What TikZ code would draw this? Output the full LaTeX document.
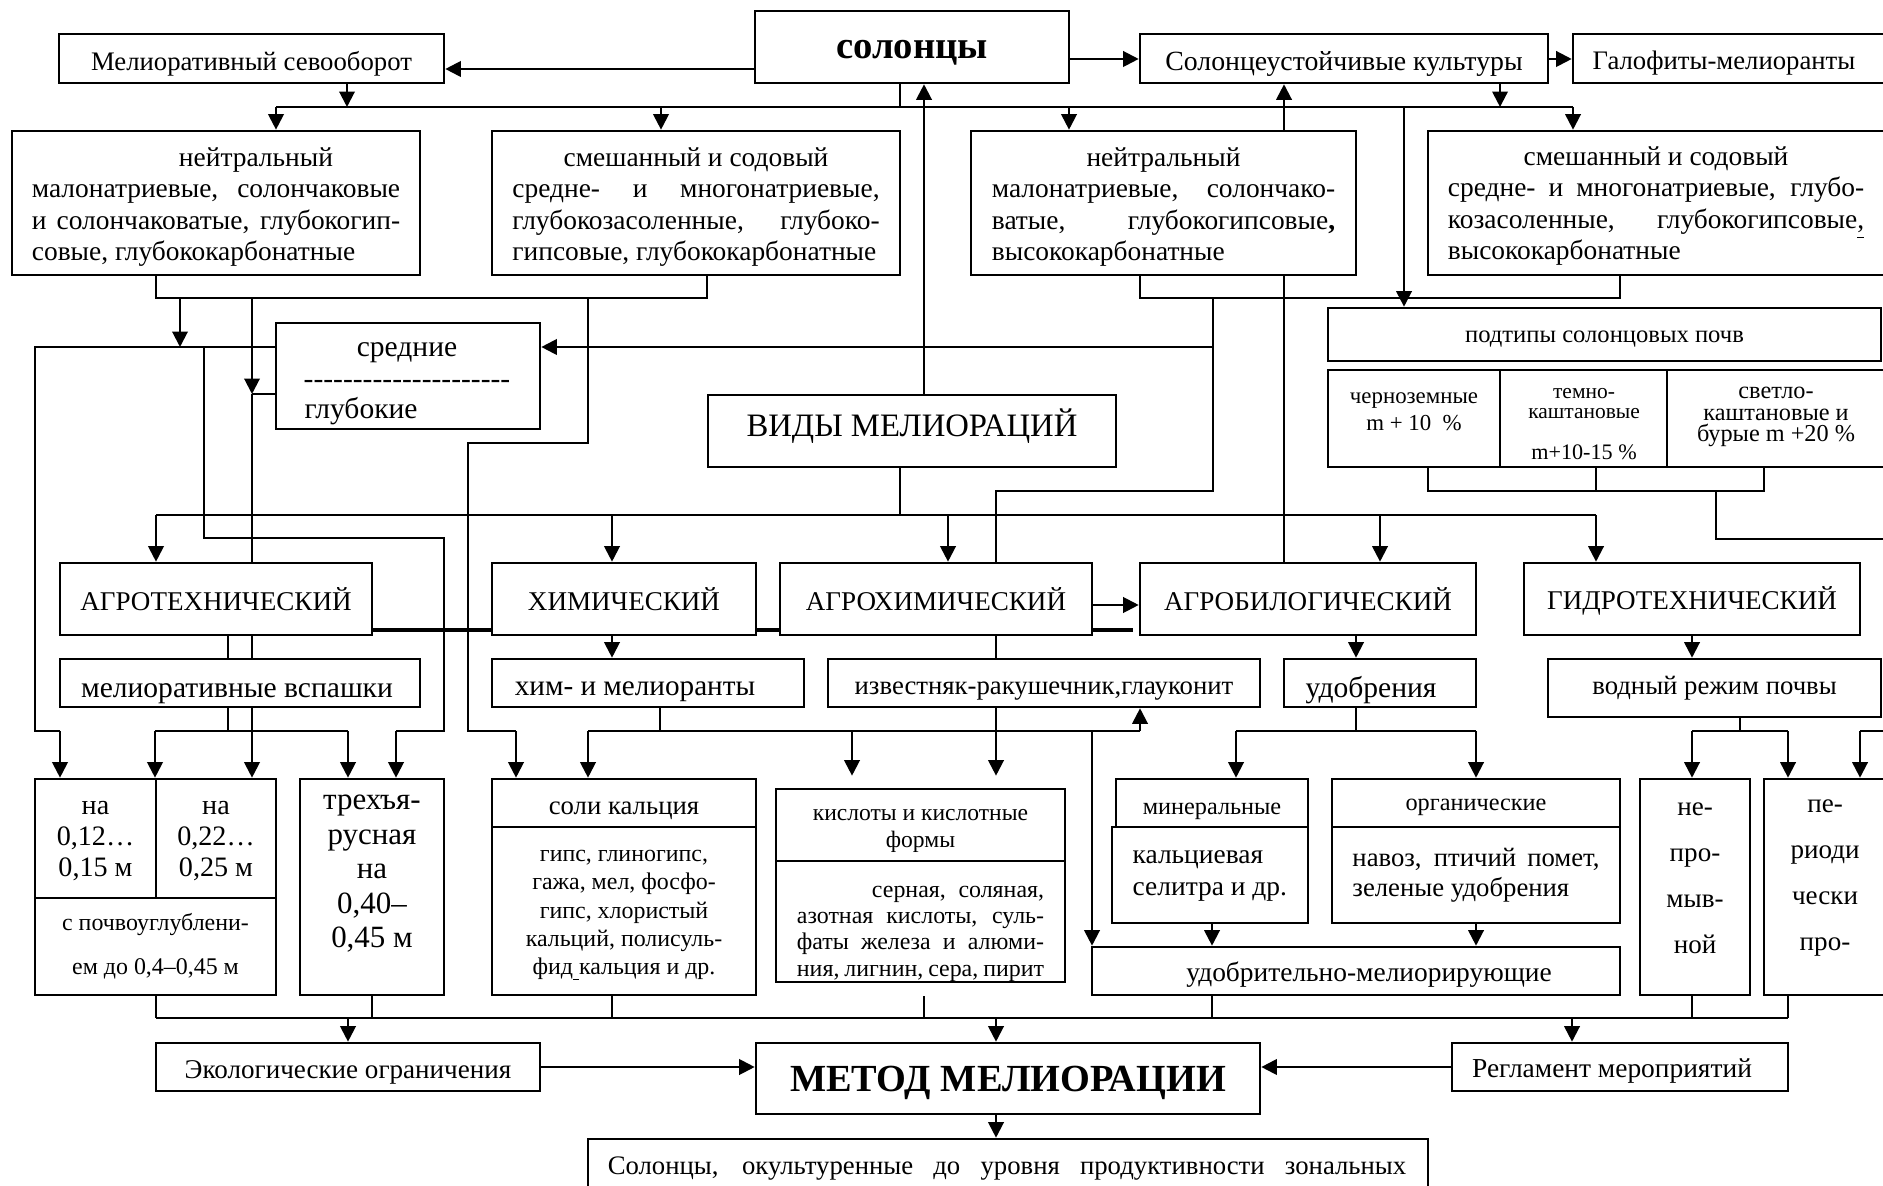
\documentclass[tikz,border=0pt]{standalone}
\usepackage{fontspec}
\setmainfont{Liberation Serif}
\usetikzlibrary{arrows.meta}
\pgfdeclarelayer{bgl}
\pgfsetlayers{bgl,main}
\newcommand\fs[2]{\fontsize{#1pt}{#2pt}\selectfont}
\newcommand\LS[2]{\makebox[#1][s]{#2}}
\newcommand\LL[2]{\makebox[#1][l]{#2}}
\newcommand\LC[2]{\makebox[#1][c]{#2}}
% empty box
\newcommand\BB[5]{\node[bx,minimum width={(#4-#2)*0.01cm},minimum height={(#5-#3)*0.01cm}] (#1) at ({(#2+#4)/2},{(#3+#5)/2}) {};}
% box with its text (text node named <name>t, centred in the box, shifted by the options)
\newcommand\B[7][]{\BB{#2}{#3}{#4}{#5}{#6}\node[tx,#1] (#2t) at (#2.center) {#7};}
\newcommand\T[5][]{\node[tx,#1] (#2) at (#3,#4) {#5};}
\newcommand\hyrow{\foreach \i in {1,...,21}{-\kern0pt}}
\begin{document}
\begin{tikzpicture}[x=0.01cm,y=-0.01cm,
 bx/.style={draw,line width=0.75pt,fill=white,inner sep=0pt},
 tx/.style={inner sep=0pt,align=center,font=\fs{7.6}{8.73}},
 cn/.style={line width=0.6pt},
 ca/.style={line width=0.6pt,-{Triangle[length=4.4pt,width=4.4pt]}},
 thk/.style={line width=1.3pt}]
\useasboundingbox (0,0) rectangle (1883,1186);
% ---- top row
\B[yshift=-0.05cm]{mel}{59}{34}{444}{83}{Мелиоративный севооборот}
\B[font=\fs{11}{12}\bfseries,yshift=-0.06cm]{sol}{755}{11}{1069}{83}{солонцы}
\B[font=\fs{7.9}{9},yshift=-0.05cm]{ust}{1140}{34}{1548}{83}{Солонцеустойчивые культуры}
\BB{gal}{1573}{34}{1910}{83}
\T{galt}{1724}{63}{Галофиты-мелиоранты}
% ---- row 2
\B[font=\fs{7.8}{8.88},yshift=-0.04cm]{ln}{12}{131}{420}{275}{\LL{3.68cm}{\hspace*{1.47cm}нейтральный}\\ \LS{3.68cm}{малонатриевые, солончаковые}\\ \LS{3.68cm}{и солончаковатые, глубокогип-}\\ \LL{3.68cm}{совые, глубококарбонатные}}
\B[font=\fs{7.8}{8.88},yshift=-0.04cm]{lm}{492}{131}{900}{275}{\LC{3.67cm}{смешанный и содовый}\\ \LS{3.67cm}{средне- и многонатриевые,}\\ \LS{3.67cm}{глубокозасоленные, глубоко-}\\ \LL{3.67cm}{гипсовые, глубококарбонатные}}
\B[font=\fs{7.8}{8.88},yshift=-0.04cm]{rn}{971}{131}{1356}{275}{\LC{3.43cm}{нейтральный}\\ \LS{3.43cm}{малонатриевые, солончако-}\\ \LS{3.43cm}{ватые, глубокогипсовые{\bfseries ,}}\\ \LL{3.43cm}{высококарбонатные}}
\BB{rm}{1428}{131}{1910}{275}
\T[font=\fs{7.8}{8.88}]{rmt}{1656}{206}{\LC{4.16cm}{смешанный и содовый}\\ \LS{4.16cm}{средне- и многонатриевые, глубо-}\\ \LS{4.16cm}{козасоленные, глубокогипсовые\underline{,}}\\ \LL{4.16cm}{высококарбонатные}}
% ---- middle
\BB{sr}{276}{323}{540}{429}
\T[font=\fs{8.4}{9}]{srt1}{407}{353}{средние}
\T[font=\fs{8.4}{9}]{srt2}{407}{384}{\hyrow}
\T[font=\fs{8.4}{9},anchor=west]{srt3}{304}{411}{глубокие}
\B[font=\fs{9.3}{10},yshift=0.05cm]{vid}{708}{395}{1116}{467}{ВИДЫ МЕЛИОРАЦИЙ}
\B[font=\fs{7}{8},yshift=-0.045cm]{pt}{1328}{308}{1881}{361}{подтипы солонцовых почв}
\BB{st1}{1328}{370}{1500}{467}
\BB{st2}{1500}{370}{1667}{467}
\BB{st3}{1667}{370}{1910}{467}
\T[font=\fs{6.5}{7.7}]{st1t}{1414}{412}{черноземные\\m + 10 \ \%}
\T[font=\fs{6.1}{5.7}]{st2t}{1584}{404}{темно-\\каштановые}
\T[font=\fs{6.3}{7}]{st2u}{1584}{452}{m+10-15 \%}
\T[font=\fs{6.9}{6}]{st3t}{1776}{417}{светло-\\каштановые и\\бурые m +20 \%}
% ---- row 4
\B[font=\fs{7.7}{9}]{at}{60}{563}{372}{635}{АГРОТЕХНИЧЕСКИЙ}
\B[font=\fs{7.7}{9}]{ch}{492}{563}{756}{635}{ХИМИЧЕСКИЙ}
\B[font=\fs{7.7}{9}]{ac}{780}{563}{1092}{635}{АГРОХИМИЧЕСКИЙ}
\B[font=\fs{7.7}{9}]{ab}{1140}{563}{1476}{635}{АГРОБИЛОГИЧЕСКИЙ}
\B[font=\fs{7.7}{9},yshift=-0.02cm]{gt}{1524}{563}{1860}{635}{ГИДРОТЕХНИЧЕСКИЙ}
% ---- row 5
\BB{vs}{60}{659}{420}{707}
\T[font=\fs{8.4}{9}]{vst}{237}{694}{мелиоративные вспашки}
\BB{hm}{492}{659}{804}{707}
\T[font=\fs{8.3}{9}]{hmt}{635}{692}{хим- и мелиоранты}
\B[yshift=-0.08cm]{iz}{828}{659}{1260}{707}{известняк-ракушечник,глауконит}
\BB{ud}{1284}{659}{1476}{707}
\T[font=\fs{8.4}{9}]{udt}{1371}{690}{удобрения}
\B{vr}{1548}{659}{1881}{717}{водный режим почвы}
% ---- row 6
\B[font=\fs{8}{8.8},yshift=-0.03cm]{c12}{35}{779}{156}{898}{на\\0,12…\\0,15 м}
\B[font=\fs{8}{8.8},yshift=-0.03cm]{c22}{156}{779}{276}{898}{на\\0,22…\\0,25 м}
\B[font=\fs{6.8}{12.5}]{cdp}{35}{898}{276}{995}{с почвоуглублени-\\ем до 0,4–0,45 м}
\BB{tr}{300}{779}{444}{995}
\T[font=\fs{8.8}{9.8}]{trt}{372}{874}{трехъя-\\русная\\на\\0,40–\\0,45 м}
\B[yshift=-0.075cm]{skA}{492}{779}{756}{827}{соли кальция}
\B[font=\fs{6.8}{8},yshift=-0.05cm]{skB}{492}{827}{756}{995}{гипс, глиногипс,\\гажа, мел, фосфо-\\гипс, хлористый\\кальций, полисуль-\\фид\underline{\ }кальция и др.}
\B[font=\fs{6.7}{7.7},yshift=-0.06cm]{ksA}{776}{789}{1065}{861}{кислоты и кислотные\\формы}
\B[font=\fs{6.8}{7.5},yshift=-0.12cm]{ksB}{776}{861}{1065}{982}{\LS{2.47cm}{\hspace*{0.75cm}серная, соляная,}\\ \LS{2.47cm}{азотная кислоты, суль-}\\ \LS{2.47cm}{фаты железа и алюми-}\\ \LS{2.47cm}{ния, лигнин, сера, пирит}}
\B[font=\fs{6.9}{8},yshift=-0.08cm]{mnA}{1116}{779}{1308}{827}{минеральные}
\BB{mnB}{1112}{827}{1308}{923}
\T[font=\fs{7.8}{9.1},anchor=west,align=left]{mnt}{1132}{876}{кальциевая\\селитра и др.}
\B[font=\fs{6.9}{8},yshift=-0.04cm]{ogA}{1332}{779}{1620}{827}{органические}
\B[font=\fs{7.6}{8.5}]{ogB}{1332}{827}{1620}{923}{\LS{2.47cm}{навоз, птичий помет,}\\ \LL{2.47cm}{зеленые удобрения}}
\BB{um}{1092}{947}{1620}{995}
\T[font=\fs{7.8}{9}]{umt}{1369}{975}{удобрительно-мелиорирующие}
\BB{np}{1640}{779}{1750}{995}
\T[font=\fs{7.7}{13.1}]{npt}{1695}{878}{не-\\про-\\мыв-\\ной}
\BB{pp}{1764}{779}{1910}{995}
\T[font=\fs{7.7}{13.1}]{ppt}{1825}{878}{пе-\\риоди\\чески\\про-}
% ---- bottom
\B[font=\fs{7.7}{9},yshift=-0.05cm]{eko}{156}{1043}{540}{1091}{Экологические ограничения}
\B[font=\fs{10.9}{12}\bfseries,yshift=-0.045cm]{met}{756}{1043}{1260}{1114}{МЕТОД МЕЛИОРАЦИИ}
\BB{reg}{1452}{1043}{1788}{1091}
\T[font=\fs{7.8}{9}]{regt}{1612}{1071}{Регламент мероприятий}
\BB{fin}{588}{1139}{1428}{1230}
\T{fint}{1007}{1169}{\LS{7.98cm}{Солонцы, окультуренные до уровня продуктивности зональных}}
% ---- connectors (behind boxes)
\begin{pgfonlayer}{bgl}
\fill[white] (0,0) rectangle (1883,1186);
\draw[ca] (sol.west |- 0,69) -- (mel.east |- 0,69);
\draw[ca] (sol.east |- 0,59) -- (ust.west |- 0,59);
\draw[ca] (ust.east |- 0,59) -- (gal.west |- 0,59);
\draw[cn] (276,107) -- (1573,107);
\draw[ca] (mel.south -| 347,0) -- (347,107);
\draw[cn] (sol.south -| 900,0) -- (900,107);
\draw[ca] (ust.south -| 1500,0) -- (1500,107);
\foreach \x/\n in {276/ln,661/lm,1069/rn,1573/rm}{\draw[ca] (\x,107) -- (\n.north -| \x,0);}
\draw[ca] (1404,107) -- (pt.north -| 1404,0);
\draw[ca] (vid.north -| 924,0) -- (sol.south -| 924,0);
\draw[ca] (ab.north -| 1284,0) -- (ust.south -| 1284,0);
% left bracket
\draw[cn] (ln.south -| 156,0) -- (156,298) -- (707,298) -- (lm.south -| 707,0);
\draw[ca] (180,298) -- (180,347);
\draw[cn] (sr.west |- 0,347) -- (35,347) -- (35,731) -- (60,731);
\draw[ca] (60,731) -- (c12.north -| 60,0);
\draw[cn] (204,347) -- (204,538) -- (444,538) -- (444,731) -- (396,731);
\draw[ca] (396,731) -- (tr.north -| 396,0);
\draw[ca] (252,298) -- (252,394);
\draw[cn] (sr.west |- 0,394) -- (252,394);
\draw[ca] (252,394) -- (c22.north -| 252,0);
\draw[cn] (588,298) -- (588,443) -- (468,443) -- (468,731) -- (516,731);
\draw[ca] (516,731) -- (skA.north -| 516,0);
% right bracket
\draw[cn] (rn.south -| 1140,0) -- (1140,298) -- (1620,298) -- (rm.south -| 1620,0);
\draw[cn] (1213,298) -- (1213,491) -- (996,491) -- (ac.north -| 996,0);
\draw[ca] (1213,347) -- (sr.east |- 0,347);
% types bus
\draw[cn] (vid.south -| 900,0) -- (900,515);
\draw[cn] (156,515) -- (1596,515);
\foreach \x/\n in {156/at,612/ch,948/ac,1380/ab,1596/gt}{\draw[ca] (\x,515) -- (\n.north -| \x,0);}
\draw[thk] (at.east |- 0,630) -- (ch.west |- 0,630);
\draw[thk] (ch.east |- 0,630) -- (ac.west |- 0,630);
\draw[thk] (ac.east |- 0,630) -- (1133,630);
\draw[ca] (ac.east |- 0,605) -- (ab.west |- 0,605);
% agrotech
\draw[cn] (at.south -| 228,0) -- (vs.north -| 228,0);
\draw[cn] (vs.south -| 228,0) -- (228,731);
\draw[cn] (155,731) -- (348,731);
\draw[ca] (155,731) -- (c22.north -| 155,0);
\draw[ca] (348,731) -- (tr.north -| 348,0);
% chem
\draw[ca] (ch.south -| 612,0) -- (hm.north -| 612,0);
\draw[cn] (hm.south -| 660,0) -- (660,731);
\draw[cn] (588,731) -- (1140,731);
\draw[ca] (588,731) -- (skA.north -| 588,0);
\draw[ca,shorten >=0.12cm] (852,731) -- (ksA.north -| 852,0);
\draw[ca,shorten >=0.12cm] (996,731) -- (ksA.north -| 996,0);
\draw[cn] (iz.south -| 996,0) -- (996,731);
\draw[ca] (1140,731) -- (iz.south -| 1140,0);
\draw[ca] (1092,731) -- (um.north -| 1092,0);
\draw[cn] (ac.south -| 996,0) -- (iz.north -| 996,0);
% agrobio
\draw[ca] (ab.south -| 1356,0) -- (ud.north -| 1356,0);
\draw[cn] (ud.south -| 1356,0) -- (1356,731);
\draw[cn] (1236,731) -- (1476,731);
\draw[ca] (1236,731) -- (mnA.north -| 1236,0);
\draw[ca] (1476,731) -- (ogA.north -| 1476,0);
\draw[ca] (mnB.south -| 1212,0) -- (um.north -| 1212,0);
\draw[ca] (ogB.south -| 1476,0) -- (um.north -| 1476,0);
% hydro
\draw[ca] (gt.south -| 1692,0) -- (vr.north -| 1692,0);
\draw[cn] (vr.south -| 1740,0) -- (1740,731);
\draw[cn] (1692,731) -- (1788,731);
\draw[ca] (1692,731) -- (np.north -| 1692,0);
\draw[ca] (1788,731) -- (pp.north -| 1788,0);
% subtypes
\draw[cn] (st1.south -| 1428,0) -- (1428,491) -- (1764,491) -- (st3.south -| 1764,0);
\draw[cn] (st2.south -| 1596,0) -- (1596,491);
\draw[cn] (1716,491) -- (1716,539) -- (1930,539) -- (1930,731) -- (1860,731);
\draw[ca] (1860,731) -- (pp.north -| 1860,0);
% bottom collector
\draw[cn] (156,1018) -- (1788,1018);
\draw[cn] (cdp.south -| 156,0) -- (156,1018);
\draw[cn] (tr.south -| 372,0) -- (372,1018);
\draw[cn] (skB.south -| 612,0) -- (612,1018);
\draw[cn,shorten <=0.13cm] (ksB.south -| 924,0) -- (924,1018);
\draw[cn] (um.south -| 1212,0) -- (1212,1018);
\draw[cn] (np.south -| 1692,0) -- (1692,1018);
\draw[cn] (pp.south -| 1788,0) -- (1788,1018);
\draw[ca] (348,1018) -- (eko.north -| 348,0);
\draw[ca] (996,1018) -- (met.north -| 996,0);
\draw[ca] (1572,1018) -- (reg.north -| 1572,0);
\draw[ca] (eko.east |- 0,1067) -- (met.west |- 0,1067);
\draw[ca] (reg.west |- 0,1067) -- (met.east |- 0,1067);
\draw[ca] (met.south -| 996,0) -- (fin.north -| 996,0);
\end{pgfonlayer}
\end{tikzpicture}
\end{document}
